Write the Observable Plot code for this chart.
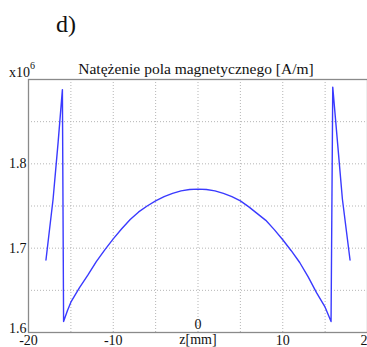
<!DOCTYPE html>
<html><head><meta charset="utf-8">
<script src="https://cdn.jsdelivr.net/npm/d3@7"></script>
<script src="https://cdn.jsdelivr.net/npm/@observablehq/plot@0.6"></script>
<style>
html,body{margin:0;padding:0;background:#fff;}
#wrap{position:relative;width:367px;height:347px;overflow:hidden;font-family:"Liberation Serif","DejaVu Serif","Times New Roman",serif;color:#111;}
#wrap svg{position:absolute;left:0;top:0;}
.lbl{position:absolute;white-space:nowrap;}
</style></head>
<body><div id="wrap">
<div class="lbl" id="panel" style="left:56px;top:11px;font-size:24px;"></div>
<div class="lbl" style="left:9px;top:62px;font-size:14px;">x10<sup style="font-size:10px;position:relative;top:-2px;">6</sup></div>
<div class="lbl" id="title" style="left:0;width:392px;text-align:center;top:60px;font-size:15.5px;"></div>
</div>
<script>
const panel = "d)";
const title = "Natężenie pola magnetycznego [A/m]";
const xLabel = "z[mm]";
const z = [-17.94, -17.1, -16.5, -16.0, -15.86, -15.4, -15.0, -14.0, -13.0, -12.0, -11.0, -10.0, -9.0, -8.0, -7.0, -6.0, -5.0, -4.0, -3.0, -2.0, -1.0, 0.0, 1.0, 2.0, 3.0, 4.0, 5.0, 6.0, 7.0, 8.0, 9.0, 10.0, 11.0, 12.0, 13.0, 14.0, 15.0, 15.7, 15.9, 16.5, 17.04, 17.94];
const H = [1.686, 1.758, 1.826, 1.888, 1.613, 1.626, 1.636, 1.653, 1.668, 1.684, 1.698, 1.711, 1.723, 1.734, 1.743, 1.750, 1.756, 1.761, 1.765, 1.768, 1.7695, 1.770, 1.7695, 1.768, 1.765, 1.761, 1.756, 1.749, 1.741, 1.733, 1.722, 1.710, 1.697, 1.683, 1.666, 1.647, 1.630, 1.613, 1.891, 1.821, 1.758, 1.686];
const xTicks = [-20, -10, 10, 20];
const xGrid = [-15, -10, -5, 0, 5, 10, 15];
const yTicks = [1.7, 1.8];
const yBottomTick = [1.6];
const yGrid = [1.65, 1.7, 1.75, 1.8, 1.85];
const data = z.map((v, i) => ({z: v, H: H[i]}));
document.getElementById("panel").textContent = panel;
document.getElementById("title").textContent = title;
const serif = "Liberation Serif, DejaVu Serif, Times New Roman, serif";

const chart = Plot.plot({
  width: 367, height: 347,
  marginTop: 79, marginBottom: 15, marginLeft: 28, marginRight: 0,
  style: {fontFamily: serif, fontSize: "14px", color: "#111", background: "transparent", overflow: "visible"},
  x: {domain: [-20, 20]},
  y: {domain: [1.6, 1.9]},
  marks: [
    Plot.ruleX(xGrid, {stroke: "#b5b5b5", strokeDasharray: "1,2", strokeWidth: 1}),
    Plot.ruleY(yGrid, {stroke: "#b5b5b5", strokeDasharray: "1,2", strokeWidth: 1}),
    Plot.frame({stroke: "#8a8a8a", strokeWidth: 1.3}),
    Plot.axisX(xTicks, {tickSize: 0, tickPadding: 3, label: null, fontSize: 14, tickFormat: d => String(d)}),
    Plot.axisY(yTicks, {tickSize: 0, tickPadding: 2, label: null, fontSize: 14, tickFormat: d => d.toFixed(1)}),
    Plot.axisY(yBottomTick, {tickSize: 0, tickPadding: 2, label: null, fontSize: 14, dy: -4, tickFormat: d => d.toFixed(1)}),
    Plot.text([0], {x: d => d, frameAnchor: "bottom", dy: -4, text: d => String(d), fontSize: 14}),
    Plot.text([xLabel], {x: () => 0, frameAnchor: "bottom", dy: 11, text: d => d, fontSize: 14}),
    Plot.line(data, {x: "z", y: "H", stroke: "#3a3aff", strokeWidth: 1.4})
  ]
});
document.getElementById("wrap").prepend(chart);
</script>
</body></html>
